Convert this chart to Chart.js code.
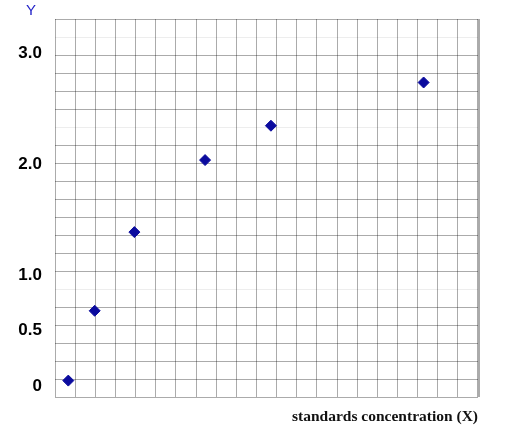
<!DOCTYPE html>
<html>
<head>
<meta charset="utf-8">
<script src="https://cdn.jsdelivr.net/npm/chart.js@4/dist/chart.umd.min.js"></script>
<style>
  html, body { margin: 0; padding: 0; background: #fff; }
  #wrap { width: 522px; height: 439px; }
</style>
</head>
<body>
<div id="wrap"><canvas id="standards-chart"></canvas></div>
<script>
// standards (x in grid columns, y in Y units)
const xValues = [0.66, 1.97, 3.94, 7.45, 10.72, 18.30];
const yValues = [0.05, 0.68, 1.39, 2.04, 2.35, 2.74];

const yTickValues = [0, 0.5, 1, 2, 3];
const yTickLabels = ['0', '0.5', '1.0', '2.0', '3.0'];

const xTitle = 'standards concentration (X)';
const yTitle = 'Y';

// grid rows that are almost gone in the scan
const fadedRows = [6, 15, 20];

const yAxisTitle = {
  id: 'yAxisTitle',
  afterDraw(chart) {
    const ctx = chart.ctx;
    ctx.save();
    ctx.font = '15px "Liberation Sans"';
    ctx.fillStyle = '#2424c8';
    ctx.textAlign = 'center';
    ctx.textBaseline = 'middle';
    ctx.fillText(yTitle, 31, 11);
    ctx.restore();
  }
};

const ctx = document.getElementById('standards-chart').getContext('2d');
new Chart(ctx, {
  type: 'scatter',
  data: {
    datasets: [{
      xAxisID: 'x',
      yAxisID: 'y',
      data: xValues.map((x, i) => ({ x: x, y: yValues[i] })),
      pointStyle: 'rectRot',
      pointRadius: 5.5,
      pointBackgroundColor: '#0b0b9e',
      pointBorderColor: '#0b0b9e',
      pointBorderWidth: 1,
      showLine: false
    }]
  },
  options: {
    responsive: true,
    maintainAspectRatio: false,
    animation: false,
    layout: { padding: { top: 19, right: 44, left: 0, bottom: 0 } },
    plugins: {
      legend: { display: false },
      tooltip: { enabled: false }
    },
    scales: {
      x: {
        type: 'linear',
        min: 0,
        max: 21,
        ticks: { display: false, stepSize: 1 },
        border: { display: false },
        grid: {
          drawTicks: false,
          color: 'rgba(0,0,0,0.33)',
          lineWidth: c => (c.tick && c.tick.value === 21 ? 3 : 1)
        },
        title: {
          display: true,
          text: xTitle,
          align: 'end',
          color: '#111',
          font: { family: '"Liberation Serif"', size: 15.5, weight: 'bold', lineHeight: 1.2 },
          padding: { top: 0, bottom: 13 }
        },
        afterFit: s => { s.height = 42; }
      },
      gy: {
        type: 'linear',
        position: 'left',
        min: 0,
        max: 21,
        ticks: { display: false, stepSize: 1 },
        border: { display: false },
        grid: {
          drawTicks: false,
          color: c => (c.tick && fadedRows.includes(c.tick.value) ? 'rgba(0,0,0,0.07)' : 'rgba(0,0,0,0.33)')
        },
        afterFit: s => { s.width = 0; s.paddingTop = 0; s.paddingBottom = 0; }
      },
      y: {
        type: 'linear',
        position: 'left',
        min: -0.098,
        max: 3.313,
        border: { display: false },
        grid: { display: false, drawTicks: false },
        afterBuildTicks: s => { s.ticks = yTickValues.map(v => ({ value: v })); },
        ticks: {
          padding: 13,
          color: '#000',
          font: { family: '"Liberation Sans"', size: 17, weight: 'bold' },
          callback: (v, i) => yTickLabels[i]
        },
        afterFit: s => { s.width = 55; s.paddingTop = 0; s.paddingBottom = 0; }
      }
    }
  },
  plugins: [yAxisTitle]
});
</script>
</body>
</html>
